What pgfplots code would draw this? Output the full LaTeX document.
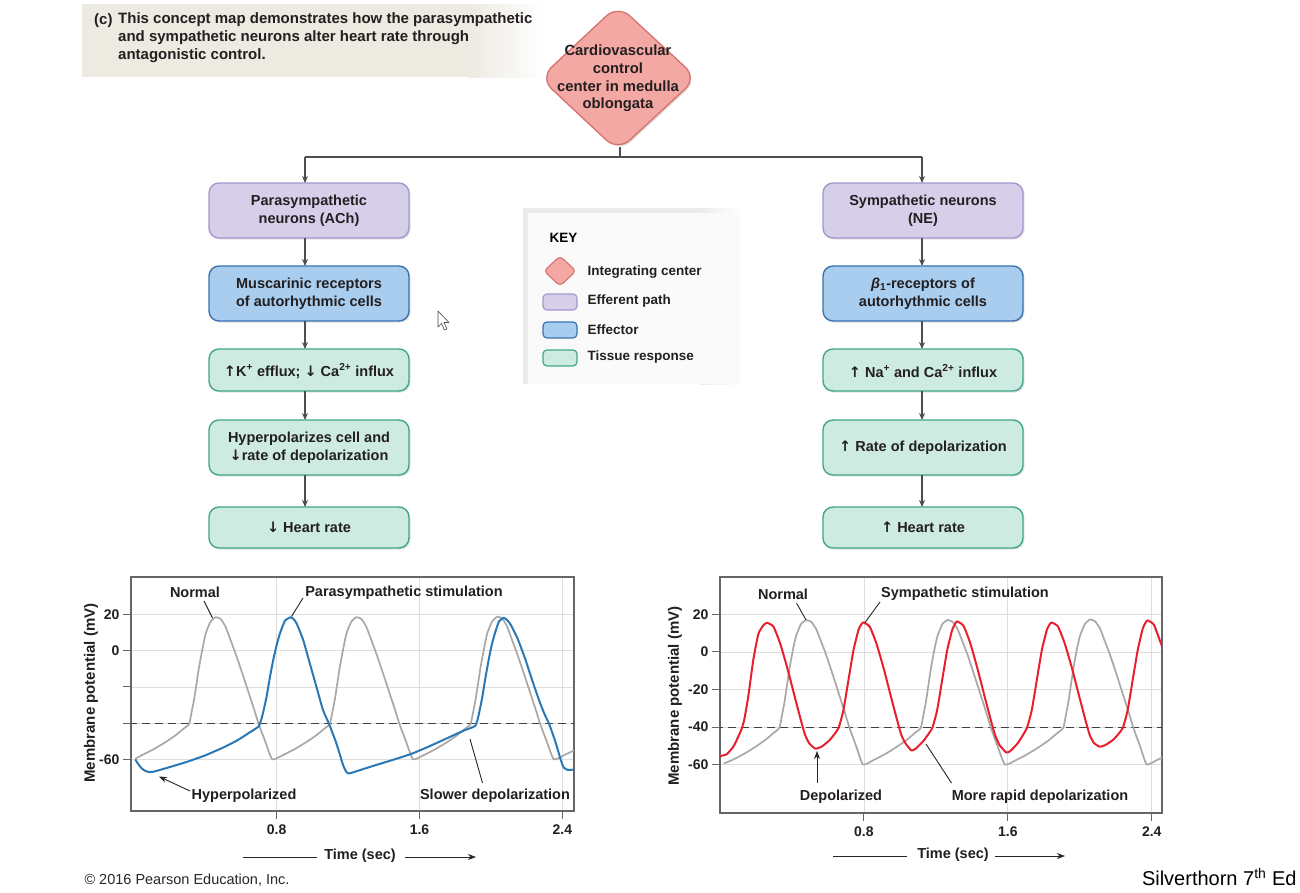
\documentclass[border=0pt]{standalone}
\usepackage{pgfplots}
\pgfplotsset{compat=1.18}
\usepackage{fontspec}
\setmainfont{Liberation Sans}
\newfontfamily\arr{DejaVu Sans}
\usetikzlibrary{arrows.meta,shadows}

\definecolor{grayc}{HTML}{A8A8A8}
\definecolor{bluec}{HTML}{2A79B6}
\definecolor{redc}{HTML}{E8202E}
\definecolor{gridc}{HTML}{DDDDDD}
\definecolor{axisc}{HTML}{666666}
\definecolor{purf}{HTML}{D6CFE9}
\definecolor{purd}{HTML}{A596CB}
\definecolor{bluf}{HTML}{A8CDEE}
\definecolor{blud}{HTML}{3A72AE}
\definecolor{tisf}{HTML}{CDEBE1}
\definecolor{tisd}{HTML}{3FA68D}
\definecolor{diaf}{HTML}{F4A8A4}
\definecolor{diad}{HTML}{D7716C}
\definecolor{hdr}{HTML}{ECEAE1}
\definecolor{txt}{HTML}{231F20}
\definecolor{linec}{HTML}{4D4D4D}

\newcommand{\bt}{\fontsize{14.5}{18}\selectfont\bfseries}
\newcommand{\kt}{\fontsize{13.5}{16}\selectfont\bfseries}
\newcommand{\up}{{\arr\char"2191}}
\newcommand{\dn}{{\arr\char"2193}}

\pgfplotsset{
  apstyle/.style={
    scale only axis,
    grid=major,
    major grid style={draw=gridc, line width=0.8pt},
    axis line style={draw=axisc, line width=1.3pt},
    tick align=outside,
    major tick length=8pt,
    tick style={draw=axisc, line width=1pt},
    xtick pos=lower, ytick pos=left,
    tick label style={font=\fontsize{14}{14}\selectfont\bfseries, text=txt},
    xticklabel style={yshift=-2pt},
    /pgf/number format/assume math mode=true,
    xtick={0.8,1.6,2.4}, xticklabels={0.8,1.6,2.4},
    ytick={-60,-40,-20,0,20},
  },
  grayline/.style={color=grayc, line width=1.7pt, line join=round, smooth, tension=0.3},
  blueline/.style={color=bluec, line width=2pt, line join=round, smooth, tension=0.3},
  redline/.style={color=redc, line width=2pt, line join=round, smooth, tension=0.3},
  thresh/.style={color=black!75, line width=1pt, dash pattern=on 8pt off 5pt},
}

\begin{document}
\begin{tikzpicture}
\begin{scope}[x=1pt,y=-1pt]
\path[use as bounding box, fill=white] (0,0) rectangle (1300,892);

% ---------- header ----------
\fill[hdr] (82,4) rectangle (470,77);
\shade[left color=hdr, right color=white] (469,4) rectangle (545,77);
\node[anchor=west, font=\fontsize{15}{18}\selectfont\bfseries, text=txt, inner sep=0pt] at (94,21) {(c)};
\node[anchor=north west, align=left, font=\fontsize{15}{18}\selectfont\bfseries, text=txt, inner sep=0pt] at (118,12.5)
  {This concept map demonstrates how the parasympathetic\\and sympathetic neurons alter heart rate through\\antagonistic control.};

% ---------- diamond ----------
\draw[fill=diaf, draw=diad, line width=1.3pt, rounded corners=16pt,
      drop shadow={shadow xshift=1.5pt, shadow yshift=-1.5pt, opacity=0.25}]
  (618,5) -- (697,78) -- (618,151) -- (540,78) -- cycle;
\node[align=center, font=\fontsize{14.8}{17.7}\selectfont\bfseries, text=txt] at (618,78.5)
  {Cardiovascular\\control\\center in medulla\\oblongata};

% connectors
\draw[linec, line width=1.1pt] (620,147) -- (620,157);
\draw[linec, line width=1.1pt] (305,157) -- (922,157);
\draw[linec, line width=1.1pt, -{Stealth[length=7pt,width=6pt]}] (305,157) -- (305,183);
\draw[linec, line width=1.1pt, -{Stealth[length=7pt,width=6pt]}] (922,157) -- (922,183);

% ---------- boxes ----------
\tikzset{bx/.style={rounded corners=10pt, line width=1.4pt,
  drop shadow={shadow xshift=1.5pt, shadow yshift=-1.5pt, opacity=0.22}}}
\tikzset{ar/.style={linec, line width=1.1pt, -{Stealth[length=7pt,width=6pt]}}}

% left column
\draw[bx, fill=purf, draw=purd] (209,183) rectangle (409,238);
\node[align=center, font=\bt, text=txt] at (309,211) {Parasympathetic\\neurons (ACh)};
\draw[ar] (305,238) -- (305,266);
\draw[bx, fill=bluf, draw=blud] (209,266) rectangle (409,321);
\node[align=center, font=\bt, text=txt] at (309,293.5) {Muscarinic receptors\\of autorhythmic cells};
\draw[ar] (305,321) -- (305,349);
\draw[bx, fill=tisf, draw=tisd] (209,349) rectangle (409,391);
\node[align=center, font=\bt, text=txt] at (309,371) {\up K\textsuperscript{+} efflux; \dn\ Ca\textsuperscript{2+} influx};
\draw[ar] (305,391) -- (305,420);
\draw[bx, fill=tisf, draw=tisd] (209,420) rectangle (409,475);
\node[align=center, font=\bt, text=txt] at (309,447.5) {Hyperpolarizes cell and\\\dn rate of depolarization};
\draw[ar] (305,475) -- (305,507);
\draw[bx, fill=tisf, draw=tisd] (209,507) rectangle (409,548);
\node[align=center, font=\bt, text=txt] at (309,527.5) {\dn\ Heart rate};

% right column
\draw[bx, fill=purf, draw=purd] (823,183) rectangle (1023,238);
\node[align=center, font=\bt, text=txt] at (923,211) {Sympathetic neurons\\(NE)};
\draw[ar] (922,238) -- (922,266);
\draw[bx, fill=bluf, draw=blud] (823,266) rectangle (1023,321);
\node[align=center, font=\bt, text=txt] at (923,293.5) {\textit{β}\textsubscript{1}-receptors of\\autorhythmic cells};
\draw[ar] (922,321) -- (922,349);
\draw[bx, fill=tisf, draw=tisd] (823,349) rectangle (1023,391);
\node[align=center, font=\bt, text=txt] at (923,371) {\up\ Na\textsuperscript{+} and Ca\textsuperscript{2+} influx};
\draw[ar] (922,391) -- (922,420);
\draw[bx, fill=tisf, draw=tisd] (823,420) rectangle (1023,475);
\node[align=center, font=\bt, text=txt] at (923,447.5) {\up\ Rate of depolarization};
\draw[ar] (922,475) -- (922,507);
\draw[bx, fill=tisf, draw=tisd] (823,507) rectangle (1023,548);
\node[align=center, font=\bt, text=txt] at (923,527.5) {\up\ Heart rate};

% ---------- key ----------
\fill[black!8] (523,208) rectangle (735,384);
\shade[left color=black!8, right color=white] (700,208) rectangle (740,384);
\fill[black!2] (528,213) rectangle (740,384);
\node[anchor=west, font=\fontsize{13.5}{13.5}\selectfont\bfseries, text=black] at (546,238) {KEY};
\draw[fill=diaf, draw=diad, line width=1.1pt, rounded corners=4pt] (560,256) -- (576,271) -- (560,286) -- (544,271) -- cycle;
\draw[fill=purf, draw=purd, line width=1.2pt, rounded corners=4pt] (543,294) rectangle (577,310);
\draw[fill=bluf, draw=blud, line width=1.2pt, rounded corners=4pt] (543,322) rectangle (577,338);
\draw[fill=tisf, draw=tisd, line width=1.2pt, rounded corners=4pt] (543,350) rectangle (577,366);
\node[anchor=west, font=\kt, text=txt] at (584,272) {Integrating center};
\node[anchor=west, font=\kt, text=txt] at (584,301.5) {Efferent path};
\node[anchor=west, font=\kt, text=txt] at (584,329.5) {Effector};
\node[anchor=west, font=\kt, text=txt] at (584,357.5) {Tissue response};

% cursor
\draw[fill=white, draw=black!70, line width=0.6pt, line join=round]
  (438,311) -- (438,327) -- (441.5,323.5) -- (444.5,330) -- (447,329) -- (444,322.5) -- (449,322.5) -- cycle;
\end{scope}

% ---------- left plot ----------
\begin{axis}[apstyle,
  at={(131pt,-577pt)}, anchor=north west,
  width=443pt, height=234pt,
  xmin=-0.015, xmax=2.465, ymin=-88.5, ymax=40.7,
  yticklabels={-60,,,0,20},
]
\addplot[thresh] coordinates {(-0.1,-40) (2.6,-40)};
\addplot[grayline] table[row sep=\\] {
t v\\
0.009 -59.6\\ 0.050 -57.5\\ 0.110 -54.5\\ 0.170 -51\\ 0.230 -47\\ 0.280 -43\\ 0.310 -40.5\\
0.324 -34\\ 0.338 -27\\ 0.352 -18\\ 0.366 -9\\ 0.385 1\\ 0.403 9.5\\ 0.430 16\\ 0.459 18.5\\
0.487 17.5\\ 0.514 13.3\\ 0.542 6\\ 0.570 -1.5\\ 0.608 -12.5\\ 0.645 -23.6\\ 0.673 -32\\
0.700 -40.5\\ 0.738 -50.5\\ 0.776 -60\\
0.838 -57.5\\ 0.898 -54.5\\ 0.958 -51\\ 1.018 -47\\ 1.068 -43\\ 1.098 -40.5\\
1.112 -34\\ 1.126 -27\\ 1.140 -18\\ 1.154 -9\\ 1.173 1\\ 1.191 9.5\\ 1.218 16\\ 1.247 18.5\\
1.275 17.5\\ 1.302 13.3\\ 1.330 6\\ 1.358 -1.5\\ 1.396 -12.5\\ 1.433 -23.6\\ 1.461 -32\\
1.488 -40.5\\ 1.526 -50.5\\ 1.564 -60\\
1.626 -57.5\\ 1.686 -54.5\\ 1.746 -51\\ 1.806 -47\\ 1.856 -43\\ 1.886 -40.5\\
1.900 -34\\ 1.914 -27\\ 1.928 -18\\ 1.942 -9\\ 1.961 1\\ 1.979 9.5\\ 2.006 16\\ 2.035 18.8\\
2.063 17.8\\ 2.090 13.5\\ 2.118 6\\ 2.146 -1.5\\ 2.184 -12.5\\ 2.221 -23.6\\ 2.249 -32\\
2.276 -40.5\\ 2.314 -50.5\\ 2.352 -60\\
2.413 -57.5\\ 2.470 -54.8\\
};
\addplot[blueline] table[row sep=\\] {
t v\\
0.009 -60\\ 0.025 -62.5\\ 0.045 -65\\ 0.068 -66.5\\ 0.091 -67\\ 0.115 -66.7\\ 0.20 -64.3\\
0.30 -61.3\\ 0.40 -57.8\\ 0.50 -53.5\\ 0.58 -49.5\\ 0.651 -45\\ 0.700 -41.7\\
0.720 -36\\ 0.744 -25.4\\ 0.762 -15\\ 0.781 -5.2\\ 0.800 3\\ 0.819 9.6\\ 0.847 16.6\\ 0.878 18.4\\
0.895 17.5\\ 0.912 15.1\\ 0.949 5.9\\ 0.986 -7.0\\ 1.023 -19.9\\ 1.060 -32.8\\ 1.094 -40.5\\
1.135 -51.2\\ 1.172 -63.1\\ 1.188 -66.5\\ 1.200 -67.7\\ 1.220 -67.4\\
1.35 -63.3\\ 1.45 -60.3\\ 1.553 -57\\ 1.65 -53\\ 1.75 -48.5\\ 1.85 -44\\ 1.912 -41.5\\
1.930 -36\\ 1.952 -25.4\\ 1.969 -15\\ 1.987 -5.2\\ 2.004 3\\ 2.022 9.6\\ 2.045 16.2\\ 2.071 18.2\\
2.090 17\\ 2.110 14.5\\ 2.150 6.5\\ 2.190 -4\\ 2.230 -16\\ 2.270 -27.5\\ 2.300 -35\\
2.326 -40.5\\ 2.360 -50\\ 2.390 -60\\ 2.407 -64.5\\ 2.430 -65.8\\ 2.470 -65.6\\
};
\end{axis}

% ---------- right plot ----------
\begin{axis}[apstyle,
  at={(720pt,-577pt)}, anchor=north west,
  width=442pt, height=236pt,
  xmin=0, xmax=2.457, ymin=-85.8, ymax=39.9,
  yticklabels={-60,-40,-20,0,20},
]
\addplot[thresh] coordinates {(-0.1,-40) (2.6,-40)};
\addplot[grayline] table[row sep=\\] {
t v\\
0.020 -59.5\\ 0.070 -57.5\\ 0.130 -54.5\\ 0.190 -51\\ 0.250 -47\\ 0.300 -43\\ 0.330 -40.5\\
0.344 -34\\ 0.358 -27\\ 0.372 -18\\ 0.386 -9\\ 0.405 1\\ 0.423 8.5\\ 0.450 14.8\\ 0.479 17\\
0.507 16\\ 0.534 12.3\\ 0.562 5.5\\ 0.590 -1.5\\ 0.628 -12.5\\ 0.665 -23.6\\ 0.693 -32\\
0.720 -40.5\\ 0.758 -50.5\\ 0.795 -60\\
0.856 -57.5\\ 0.916 -54.5\\ 0.976 -51\\ 1.036 -47\\ 1.086 -43\\ 1.116 -40.5\\
1.130 -34\\ 1.144 -27\\ 1.158 -18\\ 1.172 -9\\ 1.191 1\\ 1.209 8.5\\ 1.236 14.8\\ 1.265 17\\
1.293 16\\ 1.320 12.3\\ 1.348 5.5\\ 1.376 -1.5\\ 1.414 -12.5\\ 1.451 -23.6\\ 1.479 -32\\
1.506 -40.5\\ 1.544 -50.5\\ 1.584 -60\\
1.648 -57.5\\ 1.708 -54.5\\ 1.768 -51\\ 1.828 -47\\ 1.878 -43\\ 1.908 -40.5\\
1.922 -34\\ 1.936 -27\\ 1.950 -18\\ 1.964 -9\\ 1.983 1\\ 2.001 8.5\\ 2.028 14.8\\ 2.057 17.3\\
2.085 16.3\\ 2.112 12.5\\ 2.140 5.5\\ 2.168 -1.5\\ 2.206 -12.5\\ 2.243 -23.6\\ 2.271 -32\\
2.298 -40.5\\ 2.336 -50.5\\ 2.372 -60\\
2.430 -57.5\\ 2.470 -55.8\\
};
\addplot[redline] table[row sep=\\] {
t v\\
0.000 -55.5\\ 0.037 -54.5\\ 0.074 -50.5\\ 0.100 -45.5\\ 0.120 -41\\ 0.135 -36\\ 0.157 -23.8\\
0.185 -4.3\\ 0.213 9.5\\ 0.241 14.2\\ 0.262 15.5\\
0.297 13.5\\ 0.334 4.6\\ 0.374 -8.5\\ 0.417 -24.5\\ 0.457 -39\\ 0.474 -44.5\\ 0.497 -48.8\\ 0.529 -51.5\\
0.564 -50.5\\ 0.609 -47\\ 0.658 -40.7\\ 0.686 -31\\ 0.714 -15\\ 0.742 1\\ 0.770 11.8\\ 0.785 14.6\\ 0.797 15.7\\
0.832 13.5\\ 0.869 4.6\\ 0.909 -8.5\\ 0.952 -24.5\\ 0.992 -39\\ 1.009 -44.5\\ 1.032 -48.8\\ 1.064 -52.5\\
1.088 -51.5\\ 1.130 -47.5\\ 1.179 -40.7\\ 1.207 -31\\ 1.235 -15\\ 1.263 1\\ 1.291 11.8\\ 1.306 14.8\\ 1.318 16.3\\
1.353 14\\ 1.390 5\\ 1.430 -8.5\\ 1.473 -24.5\\ 1.513 -39\\ 1.530 -44.5\\ 1.553 -49.5\\ 1.590 -53.5\\
1.611 -53\\ 1.656 -48.5\\ 1.705 -40.7\\ 1.733 -31\\ 1.761 -15\\ 1.789 1\\ 1.817 11.8\\ 1.832 14.6\\ 1.844 15.7\\
1.879 13.5\\ 1.916 4.6\\ 1.956 -8.5\\ 1.999 -24.5\\ 2.039 -39\\ 2.056 -44.5\\ 2.079 -48.5\\ 2.111 -50.5\\
2.144 -49.5\\ 2.189 -46.5\\ 2.238 -40.7\\ 2.266 -31\\ 2.294 -15\\ 2.322 1\\ 2.350 12.5\\ 2.365 15.5\\ 2.377 16.8\\
2.412 14.5\\ 2.449 5\\ 2.470 0\\
};
\end{axis}

\begin{scope}[x=1pt,y=-1pt]
% ---------- plot annotations ----------
\tikzset{lbl/.style={font=\fontsize{14.5}{14.5}\selectfont\bfseries, text=txt}}
\tikzset{ld/.style={draw=black!85, line width=0.9pt}}
% left
\node[lbl] at (195,592) {Normal};
\draw[ld] (204,601) -- (212.5,618);
\node[lbl] at (404,593) {Parasympathetic stimulation};
\draw[ld] (303,598) -- (291.5,616.5);
\node[lbl] at (244,796) {Hyperpolarized};
\draw[ld, -{Stealth[length=8pt,width=6pt]}] (190,791) -- (159,776.5);
\node[lbl] at (495,796) {Slower depolarization};
\draw[ld] (482.5,783) -- (470,739);
\node[lbl] at (360,855.5) {Time (sec)};
\draw[ld] (243,857) -- (317,857);
\draw[ld, -{Stealth[length=8pt,width=6pt]}] (405,857) -- (476,857);
\node[lbl, rotate=90, font=\fontsize{15}{15}\selectfont\bfseries] at (91,693) {Membrane potential (mV)};
% right
\node[lbl] at (783,594) {Normal};
\draw[ld] (796.5,603) -- (806,620);
\node[lbl] at (965,594) {Sympathetic stimulation};
\draw[ld] (880,602) -- (865,622.5);
\node[lbl] at (841,797) {Depolarized};
\draw[ld, -{Stealth[length=8pt,width=6pt]}] (817,783) -- (817,751);
\node[lbl] at (1040,797) {More rapid depolarization};
\draw[ld] (951.5,783) -- (926,744);
\node[lbl] at (953,855) {Time (sec)};
\draw[ld] (833,856) -- (907,856);
\draw[ld, -{Stealth[length=8pt,width=6pt]}] (995,856) -- (1065,856);
\node[lbl, rotate=90, font=\fontsize{15}{15}\selectfont\bfseries] at (675,696) {Membrane potential (mV)};

% ---------- footer ----------
\node[anchor=west, font=\fontsize{14.5}{14.5}\selectfont, text=black!85] at (81,880) {© 2016 Pearson Education, Inc.};
\node[anchor=east, font=\fontsize{20}{20}\selectfont, text=black] at (1300,877) {Silverthorn 7\textsuperscript{th} Ed};
\end{scope}
\end{tikzpicture}
\end{document}
